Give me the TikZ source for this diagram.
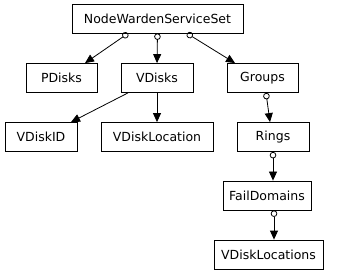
\documentclass[tikz,border=0pt]{standalone}
\usepackage{fontspec}
\setmainfont{DejaVu Sans}
\usetikzlibrary{arrows.meta}
\tikzstyle{cls} = [draw, rectangle, fill=white, line width=0.8pt, minimum height=29pt, inner sep=0pt, font=\fontsize{12.5}{15}\selectfont]
\tikzstyle{member} = [line width=0.8pt, {Circle[open,length=6.5pt,width=6.5pt]}-{Triangle[length=9pt,width=8pt]}]
\tikzstyle{plain} = [line width=0.8pt, -{Triangle[length=9pt,width=8pt]}]

\begin{document}
\begin{tikzpicture}[x=1pt,y=-1pt]
    \useasboundingbox (0,0) rectangle (337,275);
    \node (set) [cls, minimum width=171pt] at (157.5,18.5) {NodeWardenServiceSet};
    \node (pdisks) [cls, minimum width=71pt] at (61.5,78) {PDisks};
    \node (vdisks) [cls, minimum width=72pt] at (157,78) {VDisks};
    \node (groups) [cls, minimum width=71pt] at (262.5,78) {Groups};
    \node (vdiskid) [cls, minimum width=72pt] at (41,137) {VDiskID};
    \node (vdiskloc) [cls, minimum width=112pt] at (157,137) {VDiskLocation};
    \node (rings) [cls, minimum width=72pt] at (273,137) {Rings};
    \node (faildomains) [cls, minimum width=88pt] at (267,195.5) {FailDomains};
    \node (vdisklocs) [cls, minimum width=109pt] at (268.5,254.5) {VDiskLocations};
    % members of the service set
    \draw [member] ([xshift=-29.5pt]set.south) -- ([xshift=23.5pt]pdisks.north);
    \draw [member] (set.south) -- (vdisks.north);
    \draw [member] ([xshift=29.5pt]set.south) -- ([xshift=-27.5pt]groups.north);
    \draw [plain] ([xshift=-29pt]vdisks.south) -- ([xshift=30pt]vdiskid.north);
    \draw [plain] (vdisks.south) -- (vdiskloc.north);
    % group layout chain
    \draw [member] ([xshift=3.5pt]groups.south) -- ([xshift=-3pt]rings.north);
    \draw [member] (rings.south) -- ([xshift=6pt]faildomains.north);
    \draw [member] ([xshift=7pt]faildomains.south) -- ([xshift=5.5pt]vdisklocs.north);
\end{tikzpicture}
\end{document}
